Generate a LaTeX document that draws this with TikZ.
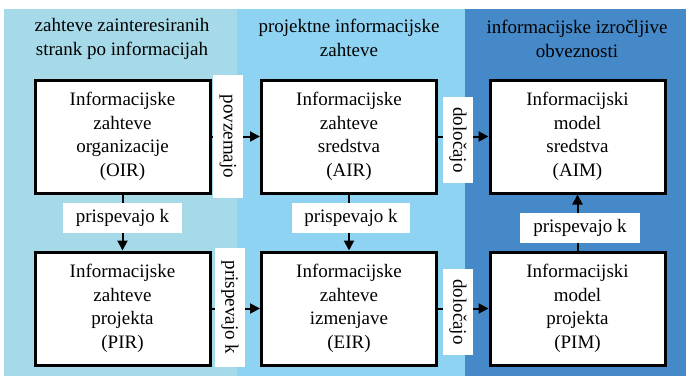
\documentclass[tikz,border=0pt]{standalone}
\usepackage{fontspec}
\setmainfont{Liberation Serif}
\usetikzlibrary{arrows.meta}

\definecolor{stakeblue}{RGB}{166,218,232}
\definecolor{projblue}{RGB}{143,211,243}
\definecolor{delivblue}{RGB}{70,137,200}

\tikzset{infobox/.style={draw=black,line width=3pt,fill=white,minimum width=175pt,minimum height=113pt,align=center,inner sep=0pt,font=\fontsize{19}{23.5}\selectfont}}
\tikzset{relarrow/.style={line width=2pt,-{Triangle[length=10pt,width=10pt]}}}
\tikzset{rellabel/.style={fill=white,minimum height=30pt,inner sep=0pt,font=\fontsize{19}{23}\selectfont}}
\tikzset{headtext/.style={align=center,font=\fontsize{19}{24}\selectfont}}

\begin{document}
\begin{tikzpicture}[x=1pt,y=1pt]
        \useasboundingbox (0,0) rectangle (686,376);
        % draw the three panels
        \fill[stakeblue] (4,0) rectangle (237,367);
        \fill[projblue] (237,0) rectangle (465,367);
        \fill[delivblue] (465,0) rectangle (686,367);
        \node[headtext] (head1) at (122,337) {zahteve zainteresiranih\\strank po informacijah};
        \node[headtext] (head2) at (349,338) {projektne informacijske\\zahteve};
        \node[headtext] (head3) at (577,337) {informacijske izročljive\\obveznosti};

        % draw the boxes
        \node[infobox] (OIR) at (122.5,239.5) {Informacijske\\zahteve\\organizacije\\(OIR)};
        \node[infobox] (AIR) at (349,239.5) {Informacijske\\zahteve\\sredstva\\(AIR)};
        \node[infobox] (AIM) at (577.5,239.5) {Informacijski\\model\\sredstva\\(AIM)};
        \node[infobox] (PIR) at (122.5,67.5) {Informacijske\\zahteve\\projekta\\(PIR)};
        \node[infobox] (EIR) at (349,67.5) {Informacijske\\zahteve\\izmenjave\\(EIR)};
        \node[infobox] (PIM) at (577.5,67.5) {Informacijski\\model\\projekta\\(PIM)};

        % draw the arrows
        \draw[relarrow] (OIR) -- (AIR);
        \draw[relarrow] (AIR) -- (AIM);
        \draw[relarrow] (PIR) -- (EIR);
        \draw[relarrow] (EIR) -- (PIM);
        \draw[relarrow] (OIR) -- (PIR);
        \draw[relarrow] (AIR) -- (EIR);
        \draw[relarrow] (PIM) -- (AIM);

        % labels on top of the arrows
        \node[rellabel,rotate=-90,minimum width=123pt] (lab1) at (228,239.5) {povzemajo};
        \node[rellabel,rotate=-90,minimum width=86pt] (lab2) at (458,236) {določajo};
        \node[rellabel,rotate=-90,minimum width=119pt] (lab3) at (230,68.5) {prispevajo k};
        \node[rellabel,rotate=-90,minimum width=86pt] (lab4) at (458,64) {določajo};
        \node[rellabel,minimum width=119pt] (lab5) at (122.5,158) {prispevajo k};
        \node[rellabel,minimum width=118pt] (lab6) at (351,158) {prispevajo k};
        \node[rellabel,minimum width=120pt] (lab7) at (580,148.5) {prispevajo k};
    \end{tikzpicture}
\end{document}
